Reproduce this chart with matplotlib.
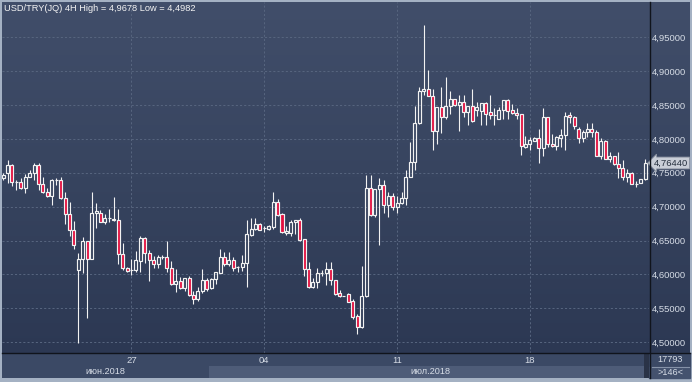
import numpy as np
import matplotlib
matplotlib.use("Agg")
import matplotlib.pyplot as plt
from matplotlib.colors import LinearSegmentedColormap
from matplotlib.patches import Rectangle
from matplotlib.transforms import blended_transform_factory

# 4H candles, USD/TRY, 21.06.2018 .. 24.07.2018 (146 visible bars)
opens = [4.742, 4.749, 4.761, 4.737, 4.737, 4.728, 4.744, 4.749, 4.761, 4.733,
         4.722, 4.716, 4.739, 4.739, 4.713, 4.689, 4.665, 4.607, 4.622, 4.649,
         4.622, 4.690, 4.690, 4.678, 4.683, 4.682, 4.680, 4.630, 4.609, 4.607,
         4.606, 4.620, 4.654, 4.631, 4.621, 4.615, 4.625, 4.625, 4.610, 4.586,
         4.590, 4.580, 4.595, 4.569, 4.563, 4.576, 4.592, 4.580, 4.593, 4.602,
         4.625, 4.615, 4.621, 4.611, 4.611, 4.617, 4.658, 4.667, 4.675, 4.668,
         4.667, 4.670, 4.707, 4.689, 4.661, 4.661, 4.677, 4.680, 4.652, 4.608,
         4.581, 4.589, 4.602, 4.602, 4.608, 4.591, 4.572, 4.568, 4.571, 4.561,
         4.538, 4.523, 4.568, 4.727, 4.687, 4.726, 4.732, 4.702, 4.716, 4.700,
         4.705, 4.713, 4.744, 4.766, 4.823, 4.870, 4.873, 4.864, 4.812, 4.847,
         4.833, 4.849, 4.859, 4.850, 4.855, 4.840, 4.849, 4.842, 4.841, 4.853,
         4.840, 4.835, 4.830, 4.843, 4.857, 4.842, 4.838, 4.836, 4.788, 4.793,
         4.797, 4.802, 4.787, 4.832, 4.793, 4.790, 4.802, 4.805, 4.835, 4.832,
         4.815, 4.801, 4.810, 4.814, 4.810, 4.775, 4.797, 4.771, 4.775, 4.763,
         4.757, 4.744, 4.749, 4.734, 4.735, 4.741]
highs = [4.750, 4.769, 4.763, 4.740, 4.742, 4.748, 4.754, 4.765, 4.764, 4.743,
         4.728, 4.741, 4.742, 4.743, 4.722, 4.707, 4.679, 4.631, 4.655, 4.649,
         4.721, 4.706, 4.695, 4.689, 4.696, 4.714, 4.696, 4.646, 4.611, 4.622,
         4.635, 4.656, 4.655, 4.636, 4.627, 4.628, 4.628, 4.650, 4.620, 4.608,
         4.596, 4.595, 4.598, 4.576, 4.581, 4.608, 4.595, 4.595, 4.603, 4.638,
         4.633, 4.633, 4.626, 4.613, 4.629, 4.680, 4.683, 4.683, 4.676, 4.672,
         4.673, 4.722, 4.712, 4.690, 4.672, 4.680, 4.680, 4.683, 4.652, 4.618,
         4.595, 4.610, 4.607, 4.618, 4.618, 4.592, 4.577, 4.568, 4.573, 4.563,
         4.542, 4.612, 4.747, 4.747, 4.726, 4.742, 4.739, 4.721, 4.720, 4.716,
         4.722, 4.754, 4.795, 4.849, 4.877, 4.9678, 4.902, 4.874, 4.847, 4.877,
         4.891, 4.871, 4.859, 4.865, 4.865, 4.849, 4.873, 4.855, 4.853, 4.855,
         4.865, 4.846, 4.847, 4.857, 4.859, 4.851, 4.846, 4.837, 4.804, 4.803,
         4.803, 4.814, 4.845, 4.833, 4.807, 4.804, 4.815, 4.839, 4.839, 4.834,
         4.818, 4.813, 4.824, 4.824, 4.813, 4.801, 4.799, 4.780, 4.775, 4.780,
         4.769, 4.756, 4.751, 4.738, 4.741, 4.771]
lows = [4.739, 4.735, 4.730, 4.725, 4.726, 4.720, 4.744, 4.739, 4.724, 4.720,
        4.714, 4.702, 4.732, 4.712, 4.674, 4.657, 4.638, 4.4982, 4.602, 4.535,
        4.622, 4.669, 4.678, 4.674, 4.677, 4.679, 4.616, 4.606, 4.604, 4.599,
        4.603, 4.603, 4.617, 4.590, 4.610, 4.610, 4.622, 4.603, 4.585, 4.574,
        4.579, 4.575, 4.568, 4.556, 4.561, 4.573, 4.576, 4.579, 4.586, 4.602,
        4.613, 4.612, 4.605, 4.603, 4.605, 4.581, 4.656, 4.666, 4.665, 4.662,
        4.666, 4.667, 4.686, 4.661, 4.658, 4.656, 4.660, 4.650, 4.598, 4.580,
        4.580, 4.580, 4.598, 4.585, 4.584, 4.570, 4.567, 4.568, 4.559, 4.534,
        4.512, 4.521, 4.567, 4.686, 4.684, 4.644, 4.691, 4.684, 4.695, 4.691,
        4.704, 4.703, 4.743, 4.754, 4.822, 4.865, 4.864, 4.783, 4.793, 4.809,
        4.829, 4.837, 4.849, 4.812, 4.833, 4.820, 4.825, 4.834, 4.821, 4.821,
        4.829, 4.821, 4.829, 4.830, 4.830, 4.836, 4.830, 4.776, 4.787, 4.784,
        4.797, 4.765, 4.774, 4.788, 4.788, 4.783, 4.788, 4.783, 4.823, 4.814,
        4.794, 4.795, 4.803, 4.803, 4.774, 4.771, 4.770, 4.766, 4.761, 4.742,
        4.740, 4.737, 4.733, 4.729, 4.735, 4.739]
closes = [4.747, 4.761, 4.737, 4.737, 4.728, 4.744, 4.749, 4.761, 4.733, 4.722,
          4.716, 4.739, 4.739, 4.713, 4.689, 4.665, 4.643, 4.622, 4.649, 4.622,
          4.690, 4.694, 4.678, 4.683, 4.683, 4.681, 4.630, 4.609, 4.605, 4.607,
          4.621, 4.654, 4.631, 4.621, 4.615, 4.625, 4.625, 4.610, 4.586, 4.590,
          4.580, 4.595, 4.569, 4.563, 4.576, 4.592, 4.578, 4.593, 4.603, 4.625,
          4.615, 4.621, 4.610, 4.611, 4.617, 4.660, 4.667, 4.675, 4.666, 4.668,
          4.672, 4.707, 4.688, 4.662, 4.664, 4.678, 4.680, 4.651, 4.608, 4.581,
          4.589, 4.602, 4.602, 4.608, 4.591, 4.571, 4.568, 4.568, 4.560, 4.537,
          4.523, 4.568, 4.727, 4.687, 4.726, 4.732, 4.702, 4.716, 4.700, 4.706,
          4.713, 4.744, 4.766, 4.823, 4.871, 4.873, 4.864, 4.812, 4.847, 4.833,
          4.849, 4.859, 4.850, 4.855, 4.840, 4.849, 4.826, 4.847, 4.853, 4.836,
          4.835, 4.835, 4.843, 4.857, 4.841, 4.838, 4.835, 4.789, 4.793, 4.798,
          4.802, 4.787, 4.832, 4.793, 4.790, 4.803, 4.806, 4.834, 4.832, 4.819,
          4.801, 4.810, 4.814, 4.810, 4.775, 4.797, 4.771, 4.775, 4.763, 4.757,
          4.744, 4.749, 4.733, 4.734, 4.741, 4.7644]

day_ticks = [29, 59, 89, 119]          # bar index of 00:00 on each day
day_labels = ['27', '04', '11', '18']
july_start = 47                         # first bar of July
month_labels = ['июн.2018', 'июл.2018']
price_ticks = [4.50, 4.55, 4.60, 4.65, 4.70, 4.75, 4.80, 4.85, 4.90, 4.95]
total_bars = 17793

W, H = 692, 382
BULL_EDGE = '#f2f2f2'
BEAR_FILL = '#e3103f'
GRID = '#56647e'
TXT = '#d6dce6'
BAR_BG = '#3b4965'

plt.rcParams['font.family'] = ['Liberation Sans', 'DejaVu Sans']


def px(x0, y0, x1, y1):
    # pixel box (from top-left) -> figure fraction rect
    return [x0 / W, 1 - y1 / H, (x1 - x0) / W, (y1 - y0) / H]


def fmt(v, n):
    return f"{v:.{n}f}".replace('.', ',')


fig = plt.figure(figsize=(W / 100, H / 100), dpi=100, facecolor='#a4b1c3')

# background layer in pixel coordinates
bg = fig.add_axes([0, 0, 1, 1])
bg.axis('off')
grad = LinearSegmentedColormap.from_list('g', ['#414e6a', '#37445f', '#2c3853'])
bg.imshow(np.linspace(0, 1, 256).reshape(-1, 1), cmap=grad, aspect='auto',
          extent=(2, 690, 353, 2), zorder=0)
bg.add_patch(Rectangle((649, 353), 41, 13.5, color=BAR_BG, zorder=1))
bg.add_patch(Rectangle((649, 366.5), 41, 11.5, color='#44526e', zorder=1))
bg.plot([652, 689], [366.5, 366.5], color='#8592a8', lw=0.8, zorder=2)
bg.text(670, 360, str(total_bars), ha='center', va='center', fontsize=6.6, color=TXT)
bg.text(670, 372.5, f">{len(closes)}<", ha='center', va='center', fontsize=6.6,
        color=TXT)
bg.set_xlim(0, W)
bg.set_ylim(H, 0)

# date bar
dax = fig.add_axes(px(2, 353, 649, 378))
dax.set_facecolor(BAR_BG)
xlim = (-0.25, 145.9)
dax.set_xlim(xlim)
dax.set_ylim(0, 1)
dax.axvspan(july_start - 0.5, 144.7, 0, 0.5, color='#4e5c78', lw=0)
dax.axvspan(144.7, xlim[1], 0, 1, color='#2a3347', lw=0)
dax.text((xlim[0] + july_start - 0.5) / 2, 0.25, month_labels[0], ha='center',
         va='center', fontsize=6.6, color=TXT)
dax.text((july_start - 0.5 + 144.7) / 2 + 1, 0.25, month_labels[1], ha='center',
         va='center', fontsize=6.6, color=TXT)
dax.set_xticks([])
dax.set_yticks([])
for s in dax.spines.values():
    s.set_visible(False)

# main chart
ax = fig.add_axes(px(2, 2, 649, 353))
ax.set_facecolor('none')
for s in ax.spines.values():
    s.set_visible(False)

o = np.array(opens)
c = np.array(closes)
h = np.array(highs)
l = np.array(lows)
idx = np.arange(len(o))
up = c >= o
top = np.maximum(o, c)
bot = np.minimum(o, c)

ax.vlines(idx, top, h, color=BULL_EDGE, lw=0.8, zorder=2)
ax.vlines(idx, l, bot, color=BULL_EDGE, lw=0.8, zorder=2)
ax.bar(idx[up], (top - bot)[up], bottom=bot[up], width=0.68, facecolor='none',
       edgecolor=BULL_EDGE, linewidth=0.85, zorder=3)
ax.bar(idx[~up], (top - bot)[~up], bottom=bot[~up], width=0.68, facecolor=BEAR_FILL,
       edgecolor=BULL_EDGE, linewidth=0.85, zorder=3)

ax.set_xlim(xlim)
ax.set_ylim(4.484, 5.002)
ax.set_xticks(day_ticks, day_labels)
ax.set_yticks(price_ticks, [fmt(v, 5) for v in price_ticks])
ax.set_axisbelow(True)
ax.grid(True, color=GRID, lw=0.75, linestyle=(0, (2, 2)))
ax.tick_params(axis='y', left=False, right=True, labelleft=False, labelright=True,
               length=0, pad=2.3, labelsize=6.8, labelcolor=TXT)
ax.tick_params(axis='x', length=0, pad=2.2, labelsize=6.8, labelcolor=TXT)

title = (f"USD/TRY(JQ) 4H High = {fmt(max(highs), 4)} "
         f"Low = {fmt(min(lows), 4)}")
ax.text(2 / 647, 1 - 2 / 351, title, transform=ax.transAxes, ha='left', va='top',
        fontsize=6.7, color='#f4f4f4')

# last price marker on the price scale
tr = blended_transform_factory(ax.transAxes, ax.transData)
ax.text(1 + 5 / 647, c[-1], fmt(c[-1], 5), transform=tr, ha='left', va='center',
        fontsize=6.8, color='#26303e', zorder=5,
        bbox=dict(boxstyle='larrow,pad=0.15', fc='#c9ced7', ec='#8c94a2', lw=0.6))

# separators
fig.add_artist(plt.Line2D([649.5 / W, 649.5 / W], [1 - 378 / H, 1 - 2 / H],
                          transform=fig.transFigure, color='#10141c', lw=1.0))
fig.add_artist(plt.Line2D([2 / W, 690 / W], [1 - 353 / H, 1 - 353 / H],
                          transform=fig.transFigure, color='#10141c', lw=1.0))

fig.savefig('out.png', dpi=100, facecolor=fig.get_facecolor())
